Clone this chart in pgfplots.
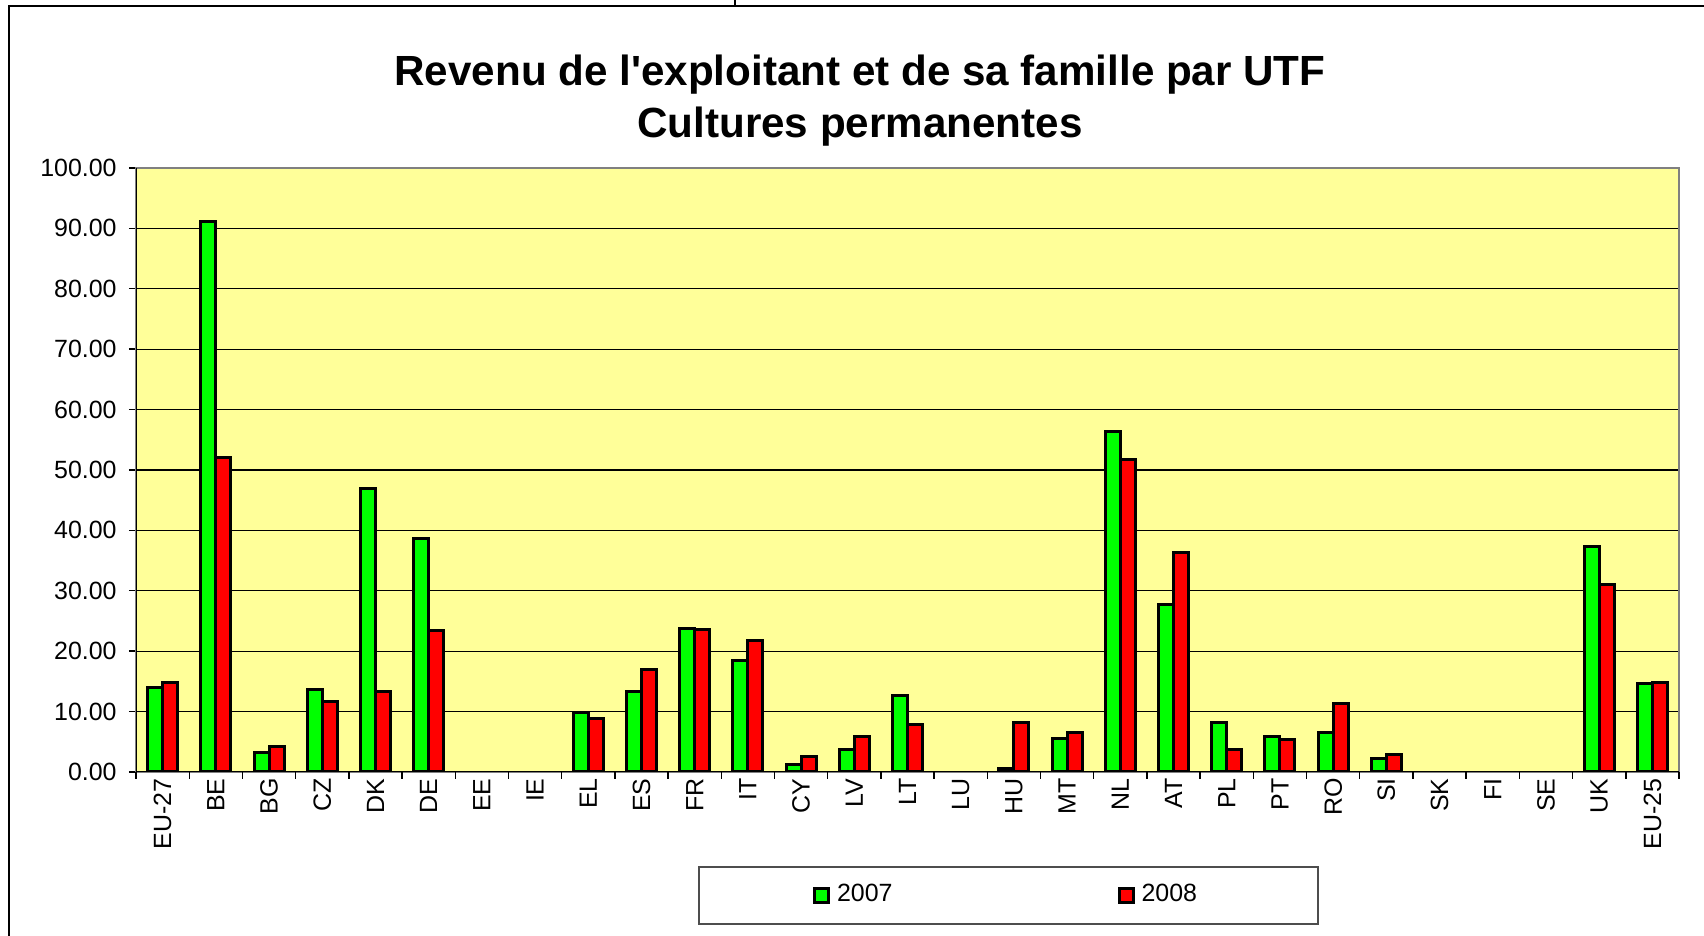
\documentclass[border=0pt]{standalone}
\usepackage{fontspec}
\setmainfont{Liberation Sans}
\usepackage{pgfplots}
\usepackage{pgfplotstable}
\pgfplotsset{compat=1.18}
\definecolor{bargreen}{RGB}{0,255,0}
\definecolor{barred}{RGB}{255,0,0}
\definecolor{plotbg}{RGB}{255,255,153}
\definecolor{framegray}{RGB}{128,128,128}

\pgfplotstableread{
x y
0 14.0
1 91.1
2 3.3
3 13.6
4 47.0
5 38.6
8 9.9
9 13.4
10 23.7
11 18.5
12 1.2
13 3.8
14 12.6
16 0.6
17 5.5
18 56.4
19 27.8
20 8.2
21 5.8
22 6.6
23 2.3
27 37.4
28 14.7
}\dataA
\pgfplotstableread{
x y
0 14.8
1 52.0
2 4.3
3 11.6
4 13.4
5 23.5
8 8.9
9 17.0
10 23.6
11 21.7
12 2.5
13 5.9
14 7.8
16 8.2
17 6.5
18 51.7
19 36.3
20 3.7
21 5.3
22 11.4
23 2.9
27 31.1
28 14.8
}\dataB

\begin{document}
\begin{tikzpicture}
\draw[black, line width=0.4pt] (0.09cm,-1cm) -- (0.09cm,9.30cm) -- (18cm,9.30cm);
\draw[black, line width=0.4pt] (7.35cm,9.30cm) -- (7.35cm,9.40cm);
\node[font=\bfseries\fontsize{12}{14.8}\selectfont, align=center] at (8.60cm,8.35cm)
  {Revenu de l\textquotesingle exploitant et de sa famille par UTF\\Cultures permanentes};
\begin{axis}[
  at={(1.36cm,1.64cm)}, anchor=south west,
  scale only axis, width=15.43cm, height=6.04cm,
  xmin=-0.5, xmax=28.5, ymin=0, ymax=100,
  ybar=0pt, bar width=0.15cm,
  axis background/.style={fill=plotbg},
  axis line style={framegray, line width=0.5pt},
  ytick={0,10,...,100},
  ymajorgrids, major grid style={black, line width=0.35pt},
  tick pos=left, tick align=outside,
  tick style={black, line width=0.4pt},
  major tick length=0.07cm,
  y tick label style={/pgf/number format/.cd, fixed, fixed zerofill, precision=2, assume math mode=true},
  tick label style={font=\fontsize{7.1}{8}\selectfont},
  xtick={0,...,28},
  xticklabels={EU-27,BE,BG,CZ,DK,DE,EE,IE,EL,ES,FR,IT,CY,LV,LT,LU,HU,MT,NL,AT,PL,PT,RO,SI,SK,FI,SE,UK,EU-25},
  x tick style={draw=none},
  xticklabel style={rotate=90, anchor=east, xshift=0.13cm, yshift=0pt},
  extra x ticks={-0.5,0.5,...,28.5},
  extra x tick labels={},
  extra x tick style={x tick style={draw=black}, major tick length=0.07cm},
  legend style={at={(0.5655,-0.2045)}, anchor=center, legend columns=2,
    draw=framegray!60!black, line width=0.4pt, font=\fontsize{7.1}{8}\selectfont,
    inner xsep=1.14cm, inner ysep=0.1cm,
    /tikz/every even column/.append style={column sep=2.18cm}},
  legend image code/.code={\draw[#1, line width=0.3mm] (0cm,-0.07cm) rectangle (0.14cm,0.07cm);},
]
\addplot[fill=bargreen, draw=black, line width=0.3mm] table[x=x,y=y] {\dataA};
\addplot[fill=barred, draw=black, line width=0.3mm] table[x=x,y=y] {\dataB};
\legend{2007,2008}
\draw[black, line width=0.5pt] (rel axis cs:0,1) -- (rel axis cs:0,0) -- (rel axis cs:1,0);
\end{axis}
\pgfresetboundingbox
\useasboundingbox (0,0) rectangle (17.04cm,9.36cm);
\end{tikzpicture}
\end{document}
